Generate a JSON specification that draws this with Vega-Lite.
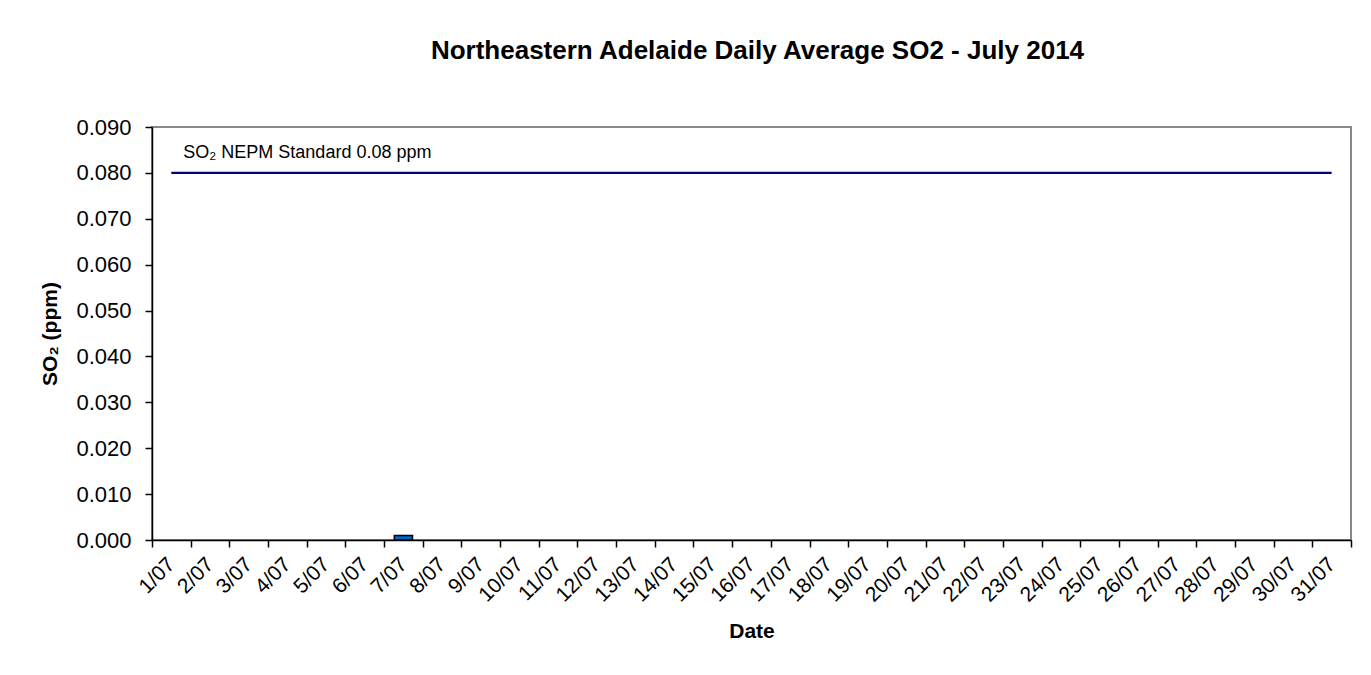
{
  "$schema": "https://vega.github.io/schema/vega-lite/v6.json",
  "width": 1199,
  "height": 413,
  "autosize": {"type": "none"},
  "padding": {"left": 152, "top": 127, "right": 20, "bottom": 135},
  "background": "white",
  "config": {
    "font": "Liberation Sans",
    "view": {"stroke": "#888888", "strokeWidth": 2}
  },
  "title": {
    "text": "Northeastern Adelaide Daily Average SO2 - July 2014",
    "font": "Liberation Sans",
    "fontSize": 26,
    "fontWeight": "bold",
    "color": "black",
    "anchor": "middle",
    "dx": 6,
    "offset": 52
  },
  "data": {
    "values": [
      {"day": "1/07", "so2": null, "standard": 0.08},
      {"day": "2/07", "so2": null, "standard": 0.08},
      {"day": "3/07", "so2": null, "standard": 0.08},
      {"day": "4/07", "so2": null, "standard": 0.08},
      {"day": "5/07", "so2": null, "standard": 0.08},
      {"day": "6/07", "so2": null, "standard": 0.08},
      {"day": "7/07", "so2": 0.001, "standard": 0.08},
      {"day": "8/07", "so2": null, "standard": 0.08},
      {"day": "9/07", "so2": null, "standard": 0.08},
      {"day": "10/07", "so2": null, "standard": 0.08},
      {"day": "11/07", "so2": null, "standard": 0.08},
      {"day": "12/07", "so2": null, "standard": 0.08},
      {"day": "13/07", "so2": null, "standard": 0.08},
      {"day": "14/07", "so2": null, "standard": 0.08},
      {"day": "15/07", "so2": null, "standard": 0.08},
      {"day": "16/07", "so2": null, "standard": 0.08},
      {"day": "17/07", "so2": null, "standard": 0.08},
      {"day": "18/07", "so2": null, "standard": 0.08},
      {"day": "19/07", "so2": null, "standard": 0.08},
      {"day": "20/07", "so2": null, "standard": 0.08},
      {"day": "21/07", "so2": null, "standard": 0.08},
      {"day": "22/07", "so2": null, "standard": 0.08},
      {"day": "23/07", "so2": null, "standard": 0.08},
      {"day": "24/07", "so2": null, "standard": 0.08},
      {"day": "25/07", "so2": null, "standard": 0.08},
      {"day": "26/07", "so2": null, "standard": 0.08},
      {"day": "27/07", "so2": null, "standard": 0.08},
      {"day": "28/07", "so2": null, "standard": 0.08},
      {"day": "29/07", "so2": null, "standard": 0.08},
      {"day": "30/07", "so2": null, "standard": 0.08},
      {"day": "31/07", "so2": null, "standard": 0.08}
    ]
  },
  "encoding": {
    "x": {
      "field": "day",
      "type": "ordinal",
      "sort": null,
      "scale": {
        "domain": ["1/07", "2/07", "3/07", "4/07", "5/07", "6/07", "7/07", "8/07", "9/07", "10/07", "11/07", "12/07", "13/07", "14/07", "15/07", "16/07", "17/07", "18/07", "19/07", "20/07", "21/07", "22/07", "23/07", "24/07", "25/07", "26/07", "27/07", "28/07", "29/07", "30/07", "31/07"],
        "paddingInner": 0,
        "paddingOuter": 0
      },
      "axis": {
        "title": "Date",
        "titleFont": "Liberation Sans",
        "titleFontSize": 21,
        "titleFontWeight": "bold",
        "titleColor": "black",
        "titlePadding": 15,
        "labelAngle": -45,
        "labelAlign": "right",
        "labelBaseline": "middle",
        "labelFont": "Liberation Sans",
        "labelFontSize": 21,
        "labelColor": "black",
        "labelPadding": 14,
        "tickBand": "extent",
        "tickSize": 7,
        "tickColor": "black",
        "tickWidth": 1.5,
        "domainColor": "black",
        "domainWidth": 1.5,
        "grid": false
      }
    }
  },
  "layer": [
    {
      "mark": {"type": "bar", "fill": "#0066CC", "stroke": "black", "strokeWidth": 1.5, "width": {"band": 0.47}},
      "encoding": {
        "y": {
          "field": "so2",
          "type": "quantitative",
          "scale": {"domain": [0, 0.09], "nice": false},
          "axis": {
            "title": "SO₂ (ppm)",
            "titleFont": "Liberation Sans",
            "titleFontSize": 21,
            "titleFontWeight": "bold",
            "titleColor": "black",
            "titlePadding": 15,
            "values": [0, 0.01, 0.02, 0.03, 0.04, 0.05, 0.06, 0.07, 0.08, 0.09],
            "format": ".3f",
            "labelFont": "Liberation Sans",
            "labelFontSize": 22,
            "labelColor": "black",
            "labelPadding": 14,
            "tickSize": 7,
            "tickColor": "black",
            "tickWidth": 1.5,
            "domainColor": "black",
            "domainWidth": 1.5,
            "grid": false
          }
        }
      }
    },
    {
      "mark": {"type": "line", "color": "#000080", "strokeWidth": 2.2},
      "encoding": {
        "y": {"field": "standard", "type": "quantitative"}
      }
    },
    {
      "data": {"values": [{"label": "SO₂ NEPM Standard 0.08 ppm"}]},
      "mark": {"type": "text", "align": "left", "baseline": "alphabetic", "dx": 12, "dy": -15, "fontSize": 18, "font": "Liberation Sans", "color": "black"},
      "encoding": {
        "x": {"datum": "1/07"},
        "y": {"datum": 0.08},
        "text": {"field": "label"}
      }
    }
  ]
}
